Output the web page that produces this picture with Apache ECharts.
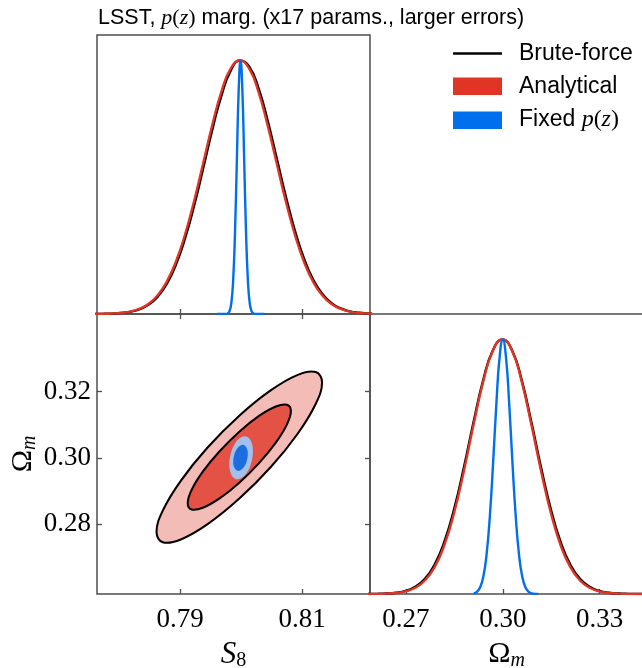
<!DOCTYPE html>
<html>
<head>
<meta charset="utf-8">
<script src="https://cdn.jsdelivr.net/npm/echarts@6.0.0/dist/echarts.min.js"></script>
<style>
html, body { margin: 0; padding: 0; background: #fff; }
#chart { width: 642px; height: 668px; }
</style>
</head>
<body>
<div id="chart"></div>
<script>
// 1D marginal of S8 (peak normalised to 1)
const s8Grid = [0.7758, 0.7773, 0.7788, 0.7803, 0.7818, 0.7833, 0.7848, 0.7863, 0.7878, 0.7893, 0.7908, 0.7923, 0.7938, 0.7953, 0.7968, 0.7983, 0.7998, 0.8013, 0.8028, 0.8043, 0.8058, 0.8073, 0.8088, 0.8103, 0.8118, 0.8133, 0.8148, 0.8163, 0.8178, 0.8193, 0.8208, 0.8223];
const s8Analytic = [0.0003, 0.0007, 0.0018, 0.0042, 0.0095, 0.02, 0.0395, 0.0729, 0.1264, 0.2052, 0.3124, 0.4457, 0.5962, 0.7476, 0.8787, 0.9682, 1, 0.9682, 0.8787, 0.7476, 0.5962, 0.4457, 0.3124, 0.2052, 0.1264, 0.0729, 0.0395, 0.02, 0.0095, 0.0042, 0.0018, 0.0007];
const s8Brute = [0.0002, 0.0006, 0.0016, 0.0038, 0.0086, 0.0182, 0.0362, 0.0675, 0.1179, 0.193, 0.2967, 0.4268, 0.5756, 0.7281, 0.8632, 0.9593, 0.9994, 0.976, 0.8935, 0.7667, 0.6168, 0.4651, 0.3288, 0.2179, 0.1353, 0.0788, 0.043, 0.022, 0.0106, 0.0048, 0.002, 0.0008];
const s8FixedGrid = [0.7960, 0.7963, 0.7966, 0.7969, 0.7972, 0.7975, 0.7978, 0.7981, 0.7984, 0.7987, 0.7990, 0.7993, 0.7996, 0.7999, 0.8002, 0.8005, 0.8008, 0.8011, 0.8014, 0.8017, 0.8020, 0.8023, 0.8026, 0.8029, 0.8032, 0.8035, 0.8038];
const s8Fixed = [0, 0, 0, 0, 0, 0.0003, 0.0022, 0.0111, 0.0439, 0.1353, 0.3247, 0.6065, 0.8825, 1, 0.8825, 0.6065, 0.3247, 0.1353, 0.0439, 0.0111, 0.0022, 0.0003, 0, 0, 0, 0, 0];

// 1D marginal of Omega_m
const omGrid = [0.2579, 0.2609, 0.2639, 0.2669, 0.2699, 0.2729, 0.2759, 0.2789, 0.2819, 0.2849, 0.2879, 0.2909, 0.2939, 0.2969, 0.2999, 0.3029, 0.3059, 0.3089, 0.3119, 0.3149, 0.3179, 0.3209, 0.3239, 0.3269, 0.3299, 0.3329, 0.3359, 0.3389, 0.3419, 0.3449];
const omAnalytic = [0.0001, 0.0004, 0.0013, 0.0039, 0.0101, 0.0243, 0.053, 0.1054, 0.1915, 0.3173, 0.4797, 0.6615, 0.8322, 0.9551, 1, 0.9551, 0.8322, 0.6615, 0.4797, 0.3173, 0.1915, 0.1054, 0.053, 0.0243, 0.0101, 0.0039, 0.0013, 0.0004, 0.0001, 0];
const omBrute = [0.0002, 0.0006, 0.0017, 0.0048, 0.0121, 0.0281, 0.0594, 0.1152, 0.2043, 0.332, 0.4937, 0.6723, 0.8382, 0.9568, 1, 0.9568, 0.8382, 0.6723, 0.4937, 0.332, 0.2043, 0.1152, 0.0594, 0.0281, 0.0121, 0.0048, 0.0017, 0.0006, 0.0002, 0];
const omFixedGrid = [0.291, 0.292, 0.293, 0.294, 0.295, 0.296, 0.297, 0.298, 0.299, 0.300, 0.301, 0.302, 0.303, 0.304, 0.305, 0.306, 0.307, 0.308, 0.309, 0.310, 0.311];
const omFixed = [0.0025, 0.0088, 0.0267, 0.0698, 0.1574, 0.3064, 0.5139, 0.744, 0.9286, 1, 0.9286, 0.744, 0.5139, 0.3064, 0.1574, 0.0698, 0.0267, 0.0088, 0.0025, 0.0007, 0.0002];

// 2D contours, [S8, Omega_m] vertices
const analytic95 = [[0.81341, 0.32284], [0.81237, 0.32602], [0.80939, 0.32528], [0.80495, 0.32072], [0.7997, 0.31303], [0.79445, 0.30339], [0.79001, 0.29327], [0.78703, 0.28419], [0.78599, 0.27756], [0.78703, 0.27438], [0.79001, 0.27512], [0.79445, 0.27968], [0.7997, 0.28737], [0.80495, 0.29701], [0.80939, 0.30713], [0.81237, 0.31621]];
const analytic68 = [[0.80819, 0.31405], [0.80754, 0.316], [0.8057, 0.31555], [0.80295, 0.31275], [0.7997, 0.30805], [0.79645, 0.30215], [0.7937, 0.29596], [0.79186, 0.29041], [0.79121, 0.28635], [0.79186, 0.2844], [0.7937, 0.28485], [0.79645, 0.28765], [0.7997, 0.29235], [0.80295, 0.29825], [0.8057, 0.30444], [0.80754, 0.30999]];
const brute95 = [[0.81325, 0.32282], [0.81222, 0.32589], [0.80928, 0.32504], [0.80489, 0.32042], [0.7997, 0.31271], [0.79451, 0.30311], [0.79012, 0.29306], [0.78718, 0.28409], [0.78615, 0.27758], [0.78718, 0.27451], [0.79012, 0.27536], [0.79451, 0.27998], [0.7997, 0.28769], [0.80489, 0.29729], [0.80928, 0.30734], [0.81222, 0.31631]];
const brute68 = [[0.80815, 0.31411], [0.80751, 0.316], [0.80568, 0.31548], [0.80293, 0.31264], [0.7997, 0.3079], [0.79647, 0.30199], [0.79372, 0.29581], [0.79189, 0.29029], [0.79125, 0.28629], [0.79189, 0.2844], [0.79372, 0.28492], [0.79647, 0.28776], [0.7997, 0.2925], [0.80293, 0.29841], [0.80568, 0.30459], [0.80751, 0.31011]];
const fixed95 = [[0.80193, 0.30195], [0.80167, 0.30478], [0.80097, 0.30633], [0.8000, 0.30619], [0.79903, 0.30439], [0.79833, 0.30141], [0.79807, 0.29805], [0.79833, 0.29522], [0.79903, 0.29367], [0.8000, 0.29381], [0.80097, 0.29561], [0.80167, 0.29859]];
const fixed68 = [[0.80109, 0.30117], [0.80093, 0.30287], [0.8005, 0.30381], [0.7999, 0.30372], [0.7993, 0.30264], [0.79887, 0.30085], [0.79871, 0.29883], [0.79887, 0.29713], [0.7993, 0.29619], [0.7999, 0.29628], [0.8005, 0.29736], [0.80093, 0.29915]];

// ticks
const s8Ticks = [0.79, 0.81];
const omTicks = [0.27, 0.30, 0.33];
const omTicks2d = [0.28, 0.30, 0.32];

const RED = '#E03424';
const BLUE = '#006FED';
const FRAME = '#4d4d4d';
const SERIF = "'Liberation Serif', 'DejaVu Serif', serif";
const SANS = "'Liberation Sans', Arial, sans-serif";

const s8Range = { min: 0.7764, max: 0.8211 };
const omRange = { min: 0.2589, max: 0.3434 };

const zip = (xs, ys) => xs.map((x, i) => [x, ys[i]]);

const tickStyle = vals => ({
  show: true,
  inside: true,
  length: 5,
  customValues: vals,
  lineStyle: { color: FRAME, width: 1.3 },
});

const labelStyle = (vals, margin) => ({
  show: true,
  customValues: vals,
  margin: margin,
  color: '#000',
  fontFamily: SERIF,
  fontSize: 27,
  formatter: v => Number(v).toFixed(2),
});

const mathName = (sym, sub, symItalic) => ({
  text: '{' + (symItalic ? 'i' : 'u') + '|' + sym + '}{s|' + sub + '}',
  rich: {
    i: { fontFamily: SERIF, fontStyle: 'italic', fontSize: 31, color: '#000' },
    u: { fontFamily: SERIF, fontSize: 30, color: '#000' },
    s: { fontFamily: SERIF, fontStyle: sub === 'm' ? 'italic' : 'normal', fontSize: 20, color: '#000', padding: [13, 0, 0, 0] },
  },
});

const s8Name = mathName('S', '8', true);
const omName = mathName('\u03A9', 'm', false);

function line(xi, yi, pts, color, width, z) {
  return {
    type: 'line', xAxisIndex: xi, yAxisIndex: yi, data: pts, z: z,
    showSymbol: false, symbol: 'none', smooth: 0.5,
    lineStyle: { color: color, width: width }, silent: true,
  };
}

function contour(pts, fill, stroke, width, z) {
  return {
    type: 'custom', xAxisIndex: 1, yAxisIndex: 1, z: z, silent: true,
    data: [pts[0]],
    renderItem: (params, api) => ({
      type: 'polygon',
      shape: { points: pts.map(p => api.coord(p)), smooth: 0.4 },
      style: { fill: fill, stroke: stroke, lineWidth: width },
    }),
  };
}

const chart = echarts.init(document.getElementById('chart'), null, { renderer: 'canvas' });

const gridBox = {
  show: true, borderColor: FRAME, borderWidth: 1.5, backgroundColor: 'transparent',
  containLabel: false, outerBoundsMode: 'none',
};

chart.setOption({
  animation: false,
  backgroundColor: '#fff',
  title: {
    left: 93, top: 2,
    text: '{a|LSST, }{m|p}{b|(}{m|z}{b|)}{a| marg. (x17 params., larger errors)}',
    textStyle: {
      fontWeight: 'normal',
      rich: {
        a: { fontFamily: SANS, fontSize: 21.5, fontWeight: 'normal', color: '#000' },
        b: { fontFamily: SERIF, fontSize: 22, fontWeight: 'normal', color: '#000' },
        m: { fontFamily: SERIF, fontStyle: 'italic', fontSize: 22, fontWeight: 'normal', color: '#000' },
      },
    },
  },
  grid: [
    Object.assign({ left: 97, top: 35, width: 273, height: 279 }, gridBox),
    Object.assign({ left: 97, top: 314, width: 273, height: 280 }, gridBox),
    Object.assign({ left: 370, top: 314, width: 273, height: 280 }, gridBox),
  ],
  xAxis: [
    { gridIndex: 0, type: 'value', min: s8Range.min, max: s8Range.max, axisLine: { show: false }, splitLine: { show: false },
      axisTick: tickStyle(s8Ticks), axisLabel: { show: false } },
    { gridIndex: 1, type: 'value', min: s8Range.min, max: s8Range.max, axisLine: { show: false }, splitLine: { show: false },
      axisTick: tickStyle(s8Ticks), axisLabel: labelStyle(s8Ticks, 12),
      name: s8Name.text, nameLocation: 'middle', nameGap: 44, nameTextStyle: { rich: s8Name.rich } },
    { gridIndex: 1, type: 'value', position: 'top', min: s8Range.min, max: s8Range.max, axisLine: { show: false }, splitLine: { show: false },
      axisTick: tickStyle(s8Ticks), axisLabel: { show: false } },
    { gridIndex: 2, type: 'value', min: omRange.min, max: omRange.max, axisLine: { show: false }, splitLine: { show: false },
      axisTick: tickStyle(omTicks), axisLabel: labelStyle(omTicks, 12),
      name: omName.text, nameLocation: 'middle', nameGap: 44, nameTextStyle: { rich: omName.rich } },
  ],
  yAxis: [
    { gridIndex: 0, type: 'value', min: 0, max: 1.1, axisLine: { show: false }, splitLine: { show: false },
      axisTick: { show: false }, axisLabel: { show: false } },
    { gridIndex: 1, type: 'value', min: omRange.min, max: omRange.max, axisLine: { show: false }, splitLine: { show: false },
      axisTick: tickStyle(omTicks2d), axisLabel: labelStyle(omTicks2d, 6),
      name: omName.text, nameLocation: 'middle', nameGap: 48, nameRotate: 90, nameTextStyle: { rich: omName.rich } },
    { gridIndex: 1, type: 'value', position: 'right', min: omRange.min, max: omRange.max, axisLine: { show: false }, splitLine: { show: false },
      axisTick: tickStyle(omTicks2d), axisLabel: { show: false } },
    { gridIndex: 2, type: 'value', min: 0, max: 1.1, axisLine: { show: false }, splitLine: { show: false },
      axisTick: { show: false }, axisLabel: { show: false } },
  ],
  series: [
    line(0, 0, zip(s8Grid, s8Brute), '#000', 2.4, 3),
    line(0, 0, zip(s8Grid, s8Analytic), RED, 2.4, 4),
    line(0, 0, zip(s8FixedGrid, s8Fixed), BLUE, 2.4, 5),
    contour(analytic95, '#f4bcb6', 'none', 0, 2),
    contour(analytic68, '#e35245', 'none', 0, 3),
    contour(fixed95, '#a5bfec', 'none', 0, 4),
    contour(fixed68, '#1c6ce2', 'none', 0, 5),
    contour(brute95, 'none', '#000', 2, 6),
    contour(brute68, 'none', '#000', 2, 6),
    line(3, 3, zip(omGrid, omBrute), '#000', 2.4, 3),
    line(3, 3, zip(omGrid, omAnalytic), RED, 2.4, 4),
    line(3, 3, zip(omFixedGrid, omFixed), BLUE, 2.4, 5),
  ],
  graphic: [
    { type: 'line', shape: { x1: 453, y1: 53.5, x2: 502, y2: 53.5 }, style: { stroke: '#000', lineWidth: 2.4 } },
    { type: 'rect', shape: { x: 453, y: 77.5, width: 49, height: 17.5 }, style: { fill: RED } },
    { type: 'rect', shape: { x: 453, y: 111.5, width: 49, height: 17.5 }, style: { fill: BLUE } },
    { type: 'text', x: 519, y: 54, style: { text: 'Brute-force', font: '23px ' + SANS, fill: '#000', verticalAlign: 'middle' } },
    { type: 'text', x: 519, y: 87, style: { text: 'Analytical', font: '23px ' + SANS, fill: '#000', verticalAlign: 'middle' } },
    { type: 'text', x: 519, y: 120, style: {
        text: '{a|Fixed }{m|p}{b|(}{m|z}{b|)}', verticalAlign: 'middle',
        rich: {
          a: { fontFamily: SANS, fontSize: 23, fill: '#000' },
          b: { fontFamily: SERIF, fontSize: 24, fill: '#000' },
          m: { fontFamily: SERIF, fontStyle: 'italic', fontSize: 24, fill: '#000' },
        } } },
  ],
});
</script>
</body>
</html>
